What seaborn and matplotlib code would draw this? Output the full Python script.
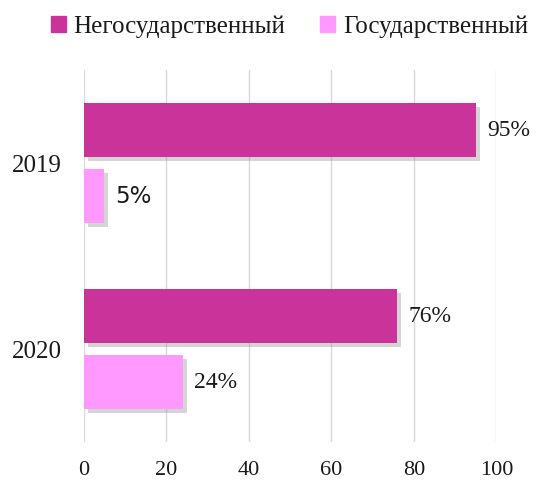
import matplotlib
matplotlib.use('Agg')
import matplotlib.pyplot as plt
import matplotlib.patheffects as pe
import pandas as pd
import seaborn as sns

years = ['2019', '2020']
series_names = ['Негосударственный', 'Государственный']
nongov = [95, 76]
gov = [5, 24]
colors = ['#C9339A', '#FF99FF']
x_ticks = [0, 20, 40, 60, 80, 100]

df = pd.DataFrame({
    'year': years * 2,
    'sector': [series_names[0]] * len(years) + [series_names[1]] * len(years),
    'value': nongov + gov,
})

sns.set_theme(style='white')
plt.rcParams['font.family'] = ['Liberation Serif', 'DejaVu Serif']

fig = plt.figure(figsize=(5.36, 4.86), dpi=100)
ax = fig.add_axes([0.156, 0.0905, 0.77, 0.765])

sns.barplot(data=df, y='year', x='value', hue='sector', orient='h',
            palette=colors, width=0.71, gap=0.18, ax=ax, legend=False,
            saturation=1)

# soft drop shadow under the bars
shadow = [pe.SimplePatchShadow(offset=(3, -3), shadow_rgbFace='#777777', alpha=0.3),
          pe.Normal()]
for p in ax.patches:
    p.set_path_effects(shadow)
    p.set_linewidth(0)

for cont in ax.containers:
    labels = ax.bar_label(cont, labels=[f'{v:.0f}%' for v in cont.datavalues],
                          padding=8, fontsize=17, color='#1a1a1a', clip_on=False)
    for t in labels:
        if t.get_text() == '5%':
            t.set_family('DejaVu Sans')
            t.set_fontsize(16.5)

ax.set_xlim(0, 100)
ax.set_xticks(x_ticks)
ax.set_xticklabels([str(v) for v in x_ticks])
ax.grid(axis='x', color='#D9D9D9', linewidth=1)
ax.set_axisbelow(True)
for s in ax.spines.values():
    s.set_visible(False)
ax.tick_params(axis='x', length=0, pad=14, labelsize=16, labelcolor='#1a1a1a')
ax.tick_params(axis='y', length=0, pad=16, labelsize=18, labelcolor='#1a1a1a')
ax.set_xlabel('')
ax.set_ylabel('')

handles = [plt.Rectangle((0, 0), 1, 1, color=c) for c in colors]
fig.legend(handles, series_names, loc='upper center', bbox_to_anchor=(0.54, 1.015),
           ncol=2, frameon=False, fontsize=18, handlelength=0.6, handleheight=0.6,
           handletextpad=0.3, columnspacing=1.4, labelcolor='#1a1a1a')

fig.savefig('out.png', dpi=100)
